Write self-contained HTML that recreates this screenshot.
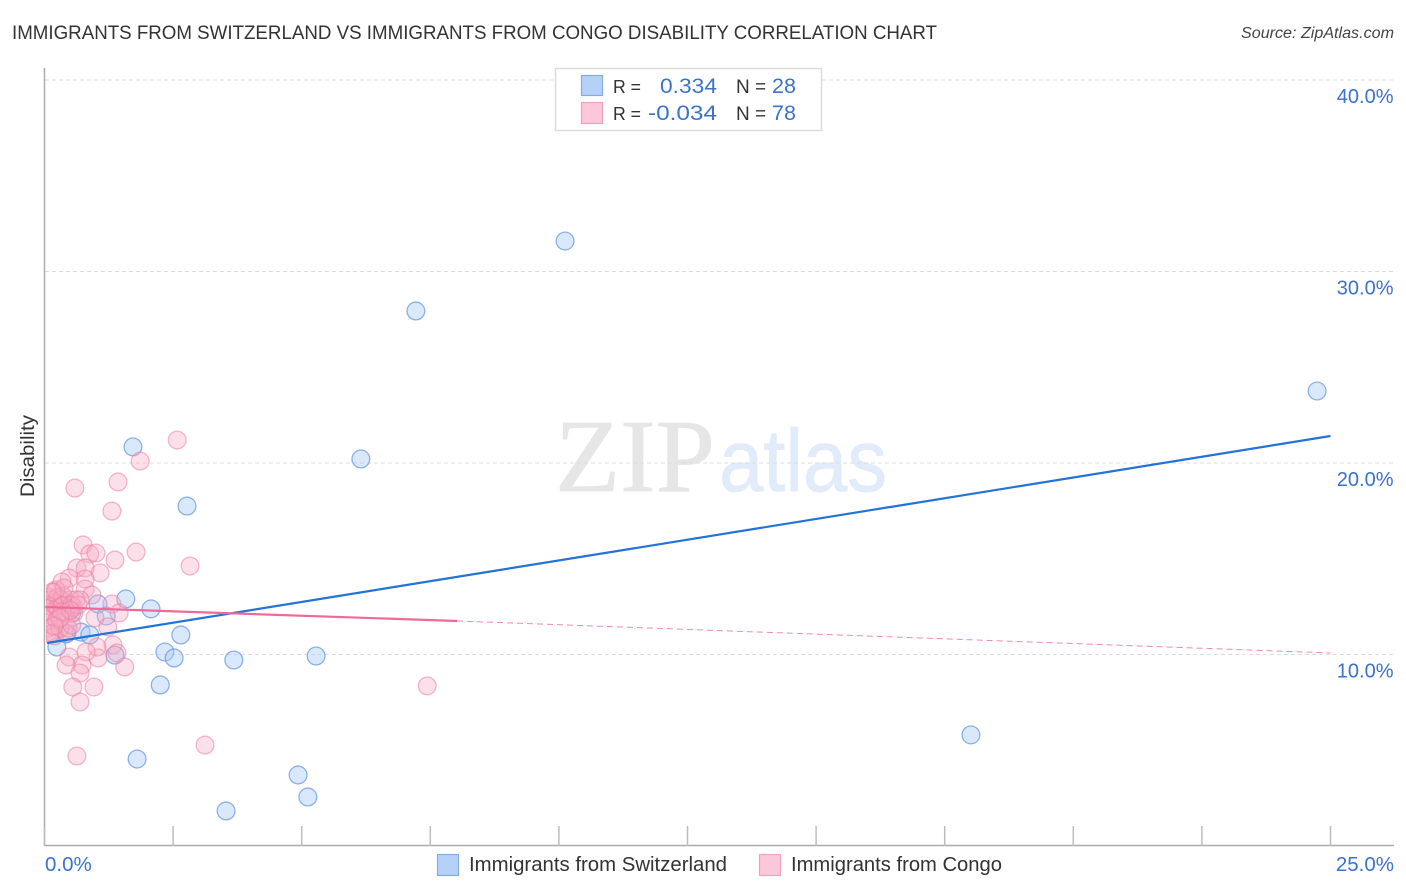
<!DOCTYPE html>
<html lang="en">
<head>
<meta charset="utf-8">
<title>Immigrants from Switzerland vs Immigrants from Congo Disability Correlation Chart</title>
<style>
html,body{margin:0;padding:0;background:#fff;width:1406px;height:892px;overflow:hidden}
svg{display:block;font-family:"Liberation Sans",sans-serif}
</style>
</head>
<body>
<svg id="chart" xmlns="http://www.w3.org/2000/svg" width="1406" height="892" viewBox="0 0 1406 892">
  <defs>
    <clipPath id="plot-clip"><rect x="46" y="60" width="1350" height="786"/></clipPath>
  </defs>
  <rect x="0" y="0" width="1406" height="892" fill="#fff"/>
  <text x="12" y="39" font-size="19.5" fill="#333" textLength="925" lengthAdjust="spacingAndGlyphs">IMMIGRANTS FROM SWITZERLAND VS IMMIGRANTS FROM CONGO DISABILITY CORRELATION CHART</text>
  <text x="1394" y="38" font-size="15.5" font-style="italic" fill="#444" text-anchor="end" textLength="153" lengthAdjust="spacingAndGlyphs">Source: ZipAtlas.com</text>

  <g>
    <text x="555" y="491" font-family="'Liberation Serif',serif" font-size="104" fill="#e6e6e6" stroke="#e6e6e6" stroke-width="0.8" textLength="160" lengthAdjust="spacingAndGlyphs">ZIP</text>
    <text x="719" y="491" font-size="88" fill="#e1ebf9" stroke="#e1ebf9" stroke-width="0.8" textLength="168" lengthAdjust="spacingAndGlyphs">atlas</text>
  </g>

  <g id="grid"></g>
  <g id="axes">
    <line x1="44.5" y1="68" x2="44.5" y2="846" stroke="#aaa" stroke-width="1.5"/>
    <line x1="44" y1="845.5" x2="1394" y2="845.5" stroke="#aaa" stroke-width="1.5"/>
  </g>
  <g id="x-ticks"></g>
  <g id="blue-points" clip-path="url(#plot-clip)"></g>
  <g id="pink-points" clip-path="url(#plot-clip)"></g>
  <g id="trends"></g>
  <g id="y-labels"></g>
  <g id="x-labels"></g>

  <text transform="translate(34 456) rotate(-90)" font-size="19" fill="#333" text-anchor="middle" textLength="82" lengthAdjust="spacingAndGlyphs">Disability</text>

  <g>
    <rect x="555.5" y="68.5" width="266" height="62" fill="#fff" stroke="#dcdcdc" stroke-width="1.5"/>
    <rect x="581.5" y="75.5" width="21" height="20" fill="#b5d1f7" stroke="#82ace8" stroke-width="1.2"/>
    <rect x="581.5" y="102.5" width="21" height="21" fill="#fcc7d8" stroke="#f3a2bc" stroke-width="1.2"/>
    <text x="613" y="93" font-size="18.5" fill="#333" textLength="28" lengthAdjust="spacingAndGlyphs">R =</text>
    <text x="660" y="93" font-size="21.5" fill="#3b72cc" textLength="57" lengthAdjust="spacingAndGlyphs">0.334</text>
    <text x="736" y="93" font-size="19" fill="#333">N =</text>
    <text x="772" y="93" font-size="21.5" fill="#3b72cc">28</text>
    <text x="613" y="120" font-size="18.5" fill="#333" textLength="28" lengthAdjust="spacingAndGlyphs">R =</text>
    <text x="648" y="120" font-size="21.5" fill="#3b72cc" textLength="69" lengthAdjust="spacingAndGlyphs">-0.034</text>
    <text x="736" y="120" font-size="19" fill="#333">N =</text>
    <text x="772" y="120" font-size="21.5" fill="#3b72cc">78</text>
  </g>

  <g>
    <rect x="437.5" y="854.5" width="21" height="21" fill="#b5d1f7" stroke="#82ace8" stroke-width="1.2"/>
    <text x="469" y="871" font-size="20" fill="#333" textLength="258" lengthAdjust="spacingAndGlyphs">Immigrants from Switzerland</text>
    <rect x="759.5" y="854.5" width="21" height="21" fill="#fcc7d8" stroke="#f3a2bc" stroke-width="1.2"/>
    <text x="791" y="871" font-size="20" fill="#333" textLength="211" lengthAdjust="spacingAndGlyphs">Immigrants from Congo</text>
  </g>
</svg>
<script>
const xTickValues = [0, 2.5, 5, 7.5, 10, 12.5, 15, 17.5, 20, 22.5, 25];
const xLabelValues = [0, 25];
const yTickValues = [10, 20, 30, 40];

const blueX = [10.12, 7.22, 24.74, 1.72, 6.15, 2.77, 1.58, 2.07, 1.04, 1.20, 0.71, 0.42, 0.88, 0.24, 1.37, 2.34, 2.52, 2.65, 3.68, 5.28, 2.25, 1.80, 4.93, 5.12, 3.53, 18.01, 0.53, 0.50];
const blueY = [31.59, 27.94, 23.76, 20.84, 20.21, 17.75, 12.90, 12.38, 12.64, 12.01, 11.17, 11.07, 11.02, 10.39, 9.97, 10.13, 9.82, 11.02, 9.71, 9.92, 8.41, 4.54, 3.71, 2.56, 1.83, 5.80, 12.17, 12.60];

const pinkX = [2.58, 1.86, 1.43, 0.59, 1.31, 7.44, 3.12, 0.63,
  0.75, 0.88, 1.00, 1.37, 1.78, 2.83, 0.63, 0.79, 1.08, 0.48, 0.34, 0.79, 0.79, 0.20, 0.92, 1.31, 1.45, 1.23, 0.98, 1.33, 1.41, 1.56, 1.04, 1.02, 0.81, 0.48, 0.73, 0.42, 0.69, 0.55, 0.96, 0.69,
  0.07, 0.07, 0.07, 0.07, 0.07, 0.11, 0.15, 0.15, 0.17, 0.20, 0.18, 0.26, 0.26, 0.34, 0.34, 0.36, 0.42, 0.42, 0.44, 0.50, 0.53, 0.57, 0.57, 0.61, 0.65, 0.69, 0.24, 0.30, 0.46, 0.53, 0.22, 0.38, 0.15, 0.11, 0.34, 0.50, 0.30, 0.18];
const pinkY = [21.20, 20.10, 19.01, 18.69, 17.49, 8.36, 5.27, 4.70,
  15.72, 15.25, 15.30, 14.93, 15.35, 14.62, 14.52, 14.52, 14.26, 13.99, 13.79, 13.94, 13.42, 13.26, 13.11, 12.64, 12.17, 11.44, 11.91, 10.50, 10.08, 9.35, 9.82, 10.39, 10.13, 9.87, 9.45, 9.45, 9.03, 8.30, 8.30, 7.52,
  13.00, 12.58, 12.22, 11.80, 11.38, 12.85, 12.48, 12.01, 11.12, 10.97, 12.64, 12.43, 13.00, 12.85, 12.53, 13.05, 12.17, 11.80, 11.12, 12.85, 12.58, 12.48, 12.17, 12.85, 12.58, 12.85, 11.80, 11.38, 11.38, 11.54, 13.37, 13.47, 13.26, 11.07, 12.22, 12.32, 11.91, 11.49];

const blueTrendX = [0.05, 25];
const blueTrendY = [10.6, 21.41];
const pinkSolidX = [0, 8.02];
const pinkSolidY = [12.48, 11.75];
const pinkDashX = [8.02, 25];
const pinkDashY = [11.75, 10.08];

const NS = 'http://www.w3.org/2000/svg';
const xScale = v => 44.5 + v * (1330.5 - 44.5) / 25;
const yScale = v => 846 - v * 19.15;
const pct = v => v.toFixed(1) + '%';

function make(tag, parentId, attrs) {
  const el = document.createElementNS(NS, tag);
  Object.keys(attrs).forEach(k => el.setAttribute(k, attrs[k]));
  document.getElementById(parentId).appendChild(el);
  return el;
}

yTickValues.forEach(v => {
  const line = make('line', 'grid', {x1: 45, x2: 1394, y1: yScale(v), y2: yScale(v), stroke: '#dcdcdc', 'stroke-width': 1, 'stroke-dasharray': '4 3'});
  
  
  const label = make('text', 'y-labels', {x: 1393.5, y: yScale(v) + 23, 'font-size': 20, fill: '#3b72cc', 'text-anchor': 'end'});
  label.textContent = pct(v);
  
  
});

xTickValues.forEach(v => {
  const tick = make('line', 'x-ticks', {x1: xScale(v), x2: xScale(v), y1: 826, y2: 846, stroke: '#bdbdbd', 'stroke-width': 1.5});
  
  
});

xLabelValues.forEach((v, i) => {
  const label = make('text', 'x-labels', {x: i === 0 ? 45 : 1394, y: 871, 'font-size': 20.5, fill: '#3b72cc', 'text-anchor': i === 0 ? 'start' : 'end'});
  label.textContent = pct(v);
  
  
});

blueX.forEach((v, i) => {
  const c = make('circle', 'blue-points', {cx: xScale(v), cy: yScale(blueY[i]), r: 8.9, fill: 'rgba(170,203,245,0.44)', stroke: 'rgba(95,150,225,0.7)', 'stroke-width': 1.3});
  
  
});

pinkX.forEach((v, i) => {
  const c = make('circle', 'pink-points', {cx: xScale(v), cy: yScale(pinkY[i]), r: 8.9, fill: 'rgba(248,170,195,0.36)', stroke: 'rgba(236,125,162,0.55)', 'stroke-width': 1.3});
  
  
});

const blueLine = make('line', 'trends', {x1: xScale(blueTrendX[0]), y1: yScale(blueTrendY[0]), x2: xScale(blueTrendX[1]), y2: yScale(blueTrendY[1]), stroke: '#2272d8', 'stroke-width': 2.2});



const pinkLine = make('line', 'trends', {x1: xScale(pinkSolidX[0]) + 1, y1: yScale(pinkSolidY[0]), x2: xScale(pinkSolidX[1]), y2: yScale(pinkSolidY[1]), stroke: '#ee6a9a', 'stroke-width': 2.2});



const pinkDash = make('line', 'trends', {x1: xScale(pinkDashX[0]), y1: yScale(pinkDashY[0]), x2: xScale(pinkDashX[1]), y2: yScale(pinkDashY[1]), stroke: '#ee8aae', 'stroke-width': 1, 'stroke-dasharray': '6 4'});


</script>
</body>
</html>
